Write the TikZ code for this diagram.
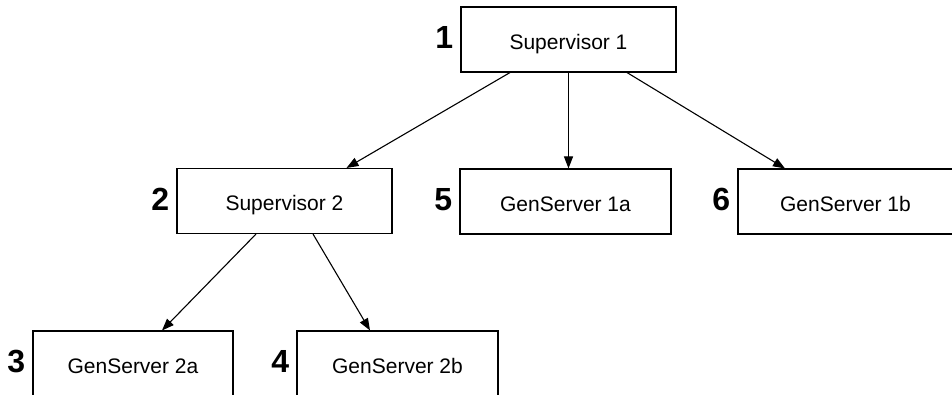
\documentclass[tikz,border=0pt]{standalone}
\usepackage{fontspec}
\setmainfont{Liberation Sans}
\usetikzlibrary{arrows.meta,calc}
\begin{document}
\begin{tikzpicture}[x=1pt,y=-1pt,
  box/.style={draw,line width=1.1pt,minimum height=65pt,inner sep=0pt,text height=20pt,text depth=0pt,font=\fontsize{21}{24}\selectfont},
  num/.style={anchor=east,inner sep=0pt,font=\fontsize{32}{36}\selectfont\bfseries},
  arr/.style={line width=1.1pt,-{Triangle[length=12pt,width=9pt]}}]
\useasboundingbox (0,0) rectangle (952,395);
\clip (0,0) rectangle (952,395);
\node[box,minimum width=215pt] (s1) at (568.5,39.5) {Supervisor 1};
\node[box,minimum width=215pt] (s2) at (284.5,201) {Supervisor 2};
\node[box,minimum width=211pt] (g1a) at (565.5,201.5) {GenServer 1a};
\node[box,minimum width=215pt] (g1b) at (845.5,201.5) {GenServer 1b};
\node[box,minimum width=200pt] (g2a) at (133,363.5) {GenServer 2a};
\node[box,minimum width=201pt] (g2b) at (397.5,363.5) {GenServer 2b};
\node[num] (n1) at ($(s1.west)+(-7,-2)$) {1};
\node[num] (n2) at ($(s2.west)+(-7,-2)$) {2};
\node[num] (n5) at ($(g1a.west)+(-7,-2)$) {5};
\node[num] (n6) at ($(g1b.west)+(-7,-2)$) {6};
\node[num] (n3) at ($(g2a.west)+(-7,-2)$) {3};
\node[num] (n4) at ($(g2b.west)+(-7,-2)$) {4};
\draw[arr] ([xshift=-58.5pt]s1.south) -- ([xshift=62pt]s2.north);
\draw[arr] (s1.south) -- (s1.south |- g1a.north);
\draw[arr] ([xshift=58.5pt]s1.south) -- ([xshift=-60.5pt]g1b.north);
\draw[arr] ([xshift=-28.5pt]s2.south) -- ([xshift=29pt]g2a.north);
\draw[arr] ([xshift=28.5pt]s2.south) -- ([xshift=-27.5pt]g2b.north);
\end{tikzpicture}
\end{document}
